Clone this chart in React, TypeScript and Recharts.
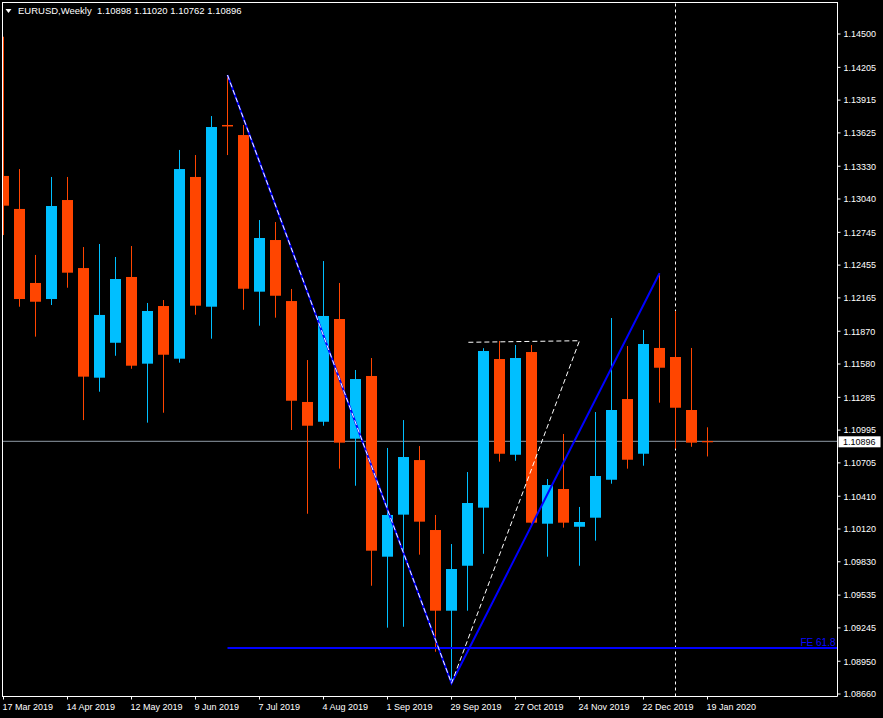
import { ComposedChart, Bar, Line, XAxis, YAxis, ReferenceLine } from "recharts";

const BULL = "#00BFFF";
const BEAR = "#FF4500";
const FONT = "'Liberation Sans', Arial, sans-serif";

// weekly bars (week open dates)
const WEEKS = [
  "17 Mar 2019", "24 Mar 2019", "31 Mar 2019", "7 Apr 2019", "14 Apr 2019", "21 Apr 2019",
  "28 Apr 2019", "5 May 2019", "12 May 2019", "19 May 2019", "26 May 2019", "2 Jun 2019",
  "9 Jun 2019", "16 Jun 2019", "23 Jun 2019", "30 Jun 2019", "7 Jul 2019", "14 Jul 2019",
  "21 Jul 2019", "28 Jul 2019", "4 Aug 2019", "11 Aug 2019", "18 Aug 2019", "25 Aug 2019",
  "1 Sep 2019", "8 Sep 2019", "15 Sep 2019", "22 Sep 2019", "29 Sep 2019", "6 Oct 2019",
  "13 Oct 2019", "20 Oct 2019", "27 Oct 2019", "3 Nov 2019", "10 Nov 2019", "17 Nov 2019",
  "24 Nov 2019", "1 Dec 2019", "8 Dec 2019", "15 Dec 2019", "22 Dec 2019", "29 Dec 2019",
  "5 Jan 2020", "12 Jan 2020", "19 Jan 2020",
];

const OPEN = [
  1.13244, 1.12952, 1.12297, 1.12155, 1.13031, 1.12429, 1.11459, 1.11768, 1.1235, 1.11583,
  1.12093, 1.11627, 1.13235, 1.12087, 1.13695, 1.13606, 1.1222, 1.12677, 1.12137, 1.11244,
  1.11069, 1.11978, 1.10919, 1.11474, 1.09875, 1.10247, 1.1073, 1.10111, 1.09397, 1.09795,
  1.10309, 1.11624, 1.10777, 1.11686, 1.10167, 1.10474, 1.1014, 1.1022, 1.10556, 1.1127,
  1.10786, 1.11722, 1.11642, 1.11173, 1.10898,
];
const HIGH = [
  1.14476, 1.13305, 1.12545, 1.13235, 1.13235, 1.12615, 1.12642, 1.12527, 1.12624, 1.1212,
  1.12146, 1.13474, 1.13429, 1.13774, 1.14137, 1.13695, 1.12854, 1.12836, 1.12244, 1.11615,
  1.12491, 1.12297, 1.11527, 1.11633, 1.10837, 1.11084, 1.10854, 1.10244, 1.09987, 1.10624,
  1.1172, 1.11784, 1.11748, 1.11748, 1.10562, 1.10961, 1.10315, 1.11155, 1.11987, 1.11739,
  1.11881, 1.12383, 1.12049, 1.11722, 1.1102,
];
const LOW = [
  1.12721, 1.12087, 1.11822, 1.12102, 1.12255, 1.11084, 1.11335, 1.11653, 1.11538, 1.11061,
  1.11149, 1.11592, 1.12016, 1.11804, 1.13429, 1.1206, 1.11919, 1.1199, 1.10996, 1.10255,
  1.11034, 1.10654, 1.10503, 1.09618, 1.09247, 1.09255, 1.09893, 1.09034, 1.08755, 1.09397,
  1.09901, 1.10716, 1.10724, 1.10158, 1.09875, 1.10132, 1.09795, 1.10017, 1.10521, 1.10654,
  1.1068, 1.11238, 1.10831, 1.10848, 1.10762,
];
const CLOSE = [
  1.12981, 1.12155, 1.12131, 1.12978, 1.12388, 1.11468, 1.12014, 1.12332, 1.11565, 1.12049,
  1.11662, 1.13305, 1.12096, 1.13677, 1.13682, 1.12246, 1.12695, 1.12184, 1.11255, 1.11034,
  1.12005, 1.10884, 1.11447, 1.09928, 1.10244, 1.10757, 1.10185, 1.09397, 1.09766, 1.1035,
  1.11695, 1.10786, 1.11633, 1.10176, 1.10509, 1.10176, 1.10182, 1.10589, 1.11173, 1.10733,
  1.11757, 1.11547, 1.11193, 1.10884, 1.10896,
];

const PRICE_TICKS = [
  1.145, 1.14205, 1.13915, 1.13625, 1.1333, 1.1304, 1.12745, 1.12455, 1.12165, 1.1187,
  1.1158, 1.11285, 1.10995, 1.10705, 1.1041, 1.1012, 1.0983, 1.09535, 1.09245, 1.0895, 1.0866,
];
const DATE_TICKS = [0, 4, 8, 12, 16, 20, 24, 28, 32, 36, 40, 44];

// drawn objects: swing points (bar index, price)
const SWING_IDX = [14, 28, 41];
const SWING_PRICE = [1.14137, 1.08755, 1.12383];
const DASH_IDX = [14, 28, 36, 29];
const DASH_PRICE = [1.14137, 1.08755, 1.11786, 1.11772];
const FE_LEVEL = 1.09066;
const SEP_IDX = 42;
const BID = 1.10896;

const W = 883;
const H = 718;
const PLOT_W = 835.5;
const X_MIN = -0.09375;
const X_MAX = X_MIN + PLOT_W / 16;
const Y_MIN = 1.086379;
const Y_MAX = 1.147832;

const candles = WEEKS.map((w, i) => ({ i, w, o: OPEN[i], h: HIGH[i], l: LOW[i], c: CLOSE[i] }));
const swing = SWING_IDX.map((i, k) => ({ i, p: SWING_PRICE[k] }));
const dashPath = DASH_IDX.map((i, k) => ({ i, p: DASH_PRICE[k] }));

function Candle(props: any) {
  const { x, y, width, height, payload } = props;
  if (!payload) return null;
  const { o, h, l, c } = payload;
  const cx = x + width / 2;
  const k = height / (h - l);
  const py = (v: number) => y + (h - v) * k;
  const color = c >= o ? BULL : BEAR;
  const top = py(Math.max(o, c));
  const bot = py(Math.min(o, c));
  const wx = Math.round(cx - 0.5);
  return (
    <g>
      <rect x={wx} y={y} width={1} height={height} fill={color} />
      <rect x={wx - 5} y={top} width={11} height={Math.max(bot - top, 1.2)} fill={color} />
    </g>
  );
}

function DateTick({ x, y, payload }: any) {
  return (
    <text x={x - 1} y={y + 10} fill="#fff" fontSize={9} fontFamily={FONT} textAnchor="start">
      {WEEKS[payload.value]}
    </text>
  );
}

function PriceTick({ x, y, payload }: any) {
  return (
    <text x={x} y={y + 3.3} fill="#fff" fontSize={9} fontFamily={FONT} textAnchor="start">
      {payload.value.toFixed(5)}
    </text>
  );
}

function BidLabel({ viewBox }: any) {
  const x = viewBox.x + viewBox.width;
  return (
    <g>
      <rect x={x + 1} y={viewBox.y - 5} width={42} height={11} fill="#fff" />
      <text x={x + 5.5} y={viewBox.y + 3.5} fill="#000" fontSize={9} fontFamily={FONT}>
        {BID.toFixed(5)}
      </text>
    </g>
  );
}

function FeLabel({ viewBox }: any) {
  return (
    <text
      x={viewBox.x + viewBox.width - 2}
      y={viewBox.y - 2}
      fill="#0a0aff"
      fontSize={10}
      fontFamily={FONT}
      textAnchor="end"
    >
      FE 61.8
    </text>
  );
}

export default function App() {
  const last = candles[candles.length - 1];
  return (
    <div style={{ position: "fixed", left: 0, top: 0, width: W, height: H, background: "#000", overflow: "hidden" }}>
      <ComposedChart
        width={W}
        height={H}
        data={candles}
        margin={{ top: 2, right: 0, bottom: 0, left: 2 }}
      >
        <XAxis
          dataKey="i"
          type="number"
          domain={[X_MIN, X_MAX]}
          ticks={DATE_TICKS}
          interval={0}
          allowDataOverflow
          height={21.5}
          axisLine={{ stroke: "#fff" }}
          tickLine={{ stroke: "#fff" }}
          tickSize={3}
          tickMargin={0}
          tick={(p: any) => <DateTick {...p} />}
        />
        <YAxis
          orientation="right"
          type="number"
          domain={[Y_MIN, Y_MAX]}
          ticks={PRICE_TICKS}
          interval={0}
          allowDataOverflow
          width={45.5}
          axisLine={{ stroke: "#fff" }}
          tickLine={{ stroke: "#fff" }}
          tickSize={3}
          tickMargin={3}
          tick={(p: any) => <PriceTick {...p} />}
        />
        <ReferenceLine y={BID} stroke="#8f9aa6" strokeWidth={1} label={<BidLabel />} zIndex={-10} />
        <ReferenceLine x={SEP_IDX} stroke="#fff" strokeDasharray="3 3" zIndex={-10} />
        <Bar
          dataKey={(d: any) => [d.l, d.h]}
          barSize={12}
          shape={<Candle />}
          isAnimationActive={false}
        />
        <ReferenceLine
          segment={[{ x: SWING_IDX[0], y: FE_LEVEL }, { x: X_MAX, y: FE_LEVEL }]}
          stroke="#0000ff"
          strokeWidth={2}
          label={<FeLabel />}
        />
        <Line
          data={swing}
          dataKey="p"
          type="linear"
          stroke="#0000ff"
          strokeWidth={2}
          dot={false}
          isAnimationActive={false}
        />
        <Line
          data={dashPath}
          dataKey="p"
          type="linear"
          stroke="#fff"
          strokeWidth={1}
          strokeDasharray="5 3"
          dot={false}
          isAnimationActive={false}
        />
      </ComposedChart>
      <div
        style={{
          position: "absolute", left: 2, top: 2, width: PLOT_W, height: 694.5,
          borderLeft: "1px solid #fff", borderTop: "1px solid #fff", boxSizing: "border-box", pointerEvents: "none",
        }}
      />
      <svg style={{ position: "absolute", left: 0, top: 0 }} width={300} height={20}>
        <polygon points="5.5,9 11.5,9 8.5,13" fill="#fff" />
        <text x={18} y={14} fill="#fff" fontSize={9.5} fontFamily={FONT}>
          EURUSD,Weekly
        </text>
        <text x={97} y={14} fill="#fff" fontSize={9.5} fontFamily={FONT}>
          {`${last.o.toFixed(5)} ${last.h.toFixed(5)} ${last.l.toFixed(5)} ${last.c.toFixed(5)}`}
        </text>
      </svg>
    </div>
  );
}
